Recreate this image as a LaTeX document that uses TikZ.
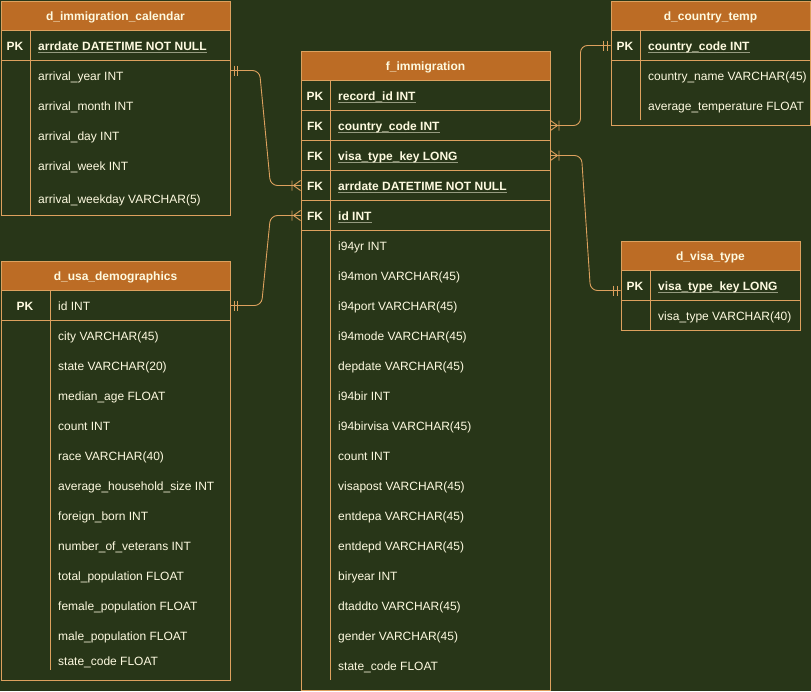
\documentclass[tikz,border=0pt]{standalone}
\usepackage{fontspec}
\setmainfont{Liberation Sans}
\definecolor{bgc}{HTML}{283618}
\definecolor{hdrc}{HTML}{BC6C25}
\definecolor{bordc}{HTML}{DDA15E}
\definecolor{txtc}{HTML}{FEFAE0}
\definecolor{ulc}{HTML}{959B80}
\newsavebox\ulbox
\newcommand\ulkey[1]{\sbox\ulbox{#1}\rlap{\textcolor{ulc}{\rule[-2.8pt]{\wd\ulbox}{1.4pt}}}\usebox\ulbox}
\tikzset{
  hdr/.style={rectangle, draw=bordc, fill=hdrc, line width=1pt, text=txtc, font=\bfseries\fontsize{12}{14}\selectfont, inner sep=0, anchor=north west, minimum height=29.5pt, text height=8.6pt, text depth=0pt},
  hdrtxt/.style={yshift=-0.8pt},
  keyrow/.style={rectangle, draw=bordc, line width=1pt, inner sep=0, anchor=north west, minimum height=30pt},
  body/.style={rectangle, draw=bordc, line width=1pt, inner sep=0, anchor=north west},
  divl/.style={draw=bordc, line width=1pt},
  klbl/.style={text=txtc, font=\bfseries\fontsize{12}{14}\selectfont, anchor=base, inner sep=0, yshift=-0.9pt},
  attr/.style={text=txtc, font=\fontsize{12}{14}\selectfont, anchor=base west, inner sep=0, yshift=-0.9pt},
  keytxt/.style={attr, font=\bfseries\fontsize{12}{14}\selectfont},
  conn/.style={draw=bordc, line width=0.9pt, rounded corners=7pt},
  mk/.style={draw=bordc, line width=0.9pt},
  manyfoot/.pic={\draw[mk] (0,-5) -- (7,0) -- (0,5) (0,0) -- (7,0) (8.5,-5) -- (8.5,5);},
  onebars/.pic={\draw[mk] (3.5,-5) -- (3.5,5) (7,-5) -- (7,5);}
}
\begin{document}
\begin{tikzpicture}[x=1pt,y=-1pt]
\useasboundingbox (0,0) rectangle (811,691);
\fill[bgc] (0,0) rectangle (811,691);

% ---------- d_immigration_calendar ----------
\node[hdr, minimum width=229pt] (calH) at (0.5,0.5) {\raisebox{-0.8pt}{d\_immigration\_calendar}};
\node[keyrow, minimum width=229pt] (calPK) at (0.5,30) {};
\node[body, minimum width=229pt, minimum height=155pt] (calB) at (0.5,60) {};
\draw[divl] (30,30) -- (30,215);
\node[klbl] (calPKl) at (15,49.3) {PK};
\node[keytxt] (calPKt) at (38,49.3) {\ulkey{arrdate DATETIME NOT NULL}};
\node[attr] (cal1) at (38,79.3) {arrival\_year INT};
\node[attr] (cal2) at (38,109.3) {arrival\_month INT};
\node[attr] (cal3) at (38,139.3) {arrival\_day INT};
\node[attr] (cal4) at (38,169.3) {arrival\_week INT};
\node[attr] (cal5) at (38,202.3) {arrival\_weekday VARCHAR(5)};

% ---------- d_country_temp ----------
\node[hdr, minimum width=199pt] (ctH) at (610.5,0.5) {\raisebox{-0.8pt}{d\_country\_temp}};
\node[keyrow, minimum width=199pt] (ctPK) at (610.5,30) {};
\node[body, minimum width=199pt, minimum height=65pt] (ctB) at (610.5,60) {};
\draw[divl] (640,30) -- (640,120);
\node[klbl] (ctPKl) at (625,49.3) {PK};
\node[keytxt] (ctPKt) at (648,49.3) {\ulkey{country\_code INT}};
\node[attr] (ct1) at (648,79.3) {country\_name VARCHAR(45)};
\node[attr] (ct2) at (648,109.3) {average\_temperature FLOAT};

% ---------- d_visa_type ----------
\node[hdr, minimum width=179pt] (vtH) at (620.5,240.5) {\raisebox{-0.8pt}{d\_visa\_type}};
\node[keyrow, minimum width=179pt] (vtPK) at (620.5,270) {};
\node[body, minimum width=179pt, minimum height=30pt] (vtB) at (620.5,300) {};
\draw[divl] (650,270) -- (650,330);
\node[klbl] (vtPKl) at (635,289.3) {PK};
\node[keytxt] (vtPKt) at (658,289.3) {\ulkey{visa\_type\_key LONG}};
\node[attr] (vt1) at (658,319.3) {visa\_type VARCHAR(40)};

% ---------- d_usa_demographics ----------
\node[hdr, minimum width=229pt] (dmH) at (0.5,260.5) {\raisebox{-0.8pt}{d\_usa\_demographics}};
\node[keyrow, minimum width=229pt] (dmPK) at (0.5,290) {};
\node[body, minimum width=229pt, minimum height=360pt] (dmB) at (0.5,320) {};
\draw[divl] (50,290) -- (50,670);
\node[klbl] (dmPKl) at (25,309.3) {PK};
\node[attr] (dmPKt) at (58,309.3) {id INT};
\foreach \t [count=\i] in {city VARCHAR(45), state VARCHAR(20), median\_age FLOAT, count INT, race VARCHAR(40), average\_household\_size INT, foreign\_born INT, number\_of\_veterans INT, total\_population FLOAT, female\_population FLOAT, male\_population FLOAT}
  \node[attr] (dm\i) at (58,{309.3+30*\i}) {\t};
\node[attr] (dm12) at (58,664.3) {state\_code FLOAT};

% ---------- f_immigration ----------
\node[hdr, minimum width=249pt] (fH) at (300.5,50.5) {\raisebox{-0.8pt}{f\_immigration}};
\node[keyrow, minimum width=249pt] (fRec) at (300.5,80) {};
\node[keyrow, minimum width=249pt] (fCountry) at (300.5,110) {};
\node[keyrow, minimum width=249pt] (fVisa) at (300.5,140) {};
\node[keyrow, minimum width=249pt] (fArr) at (300.5,170) {};
\node[keyrow, minimum width=249pt] (fId) at (300.5,200) {};
\node[body, minimum width=249pt, minimum height=459.5pt] (fB) at (300.5,230) {};
\draw[divl] (330,80) -- (330,680);
\node[klbl] (fRecl) at (315,99.3) {PK};
\node[keytxt] (fRect) at (338,99.3) {\ulkey{record\_id INT}};
\node[klbl] (fCountryl) at (315,129.3) {FK};
\node[keytxt] (fCountryt) at (338,129.3) {\ulkey{country\_code INT}};
\node[klbl] (fVisal) at (315,159.3) {FK};
\node[keytxt] (fVisat) at (338,159.3) {\ulkey{visa\_type\_key LONG}};
\node[klbl] (fArrl) at (315,189.3) {FK};
\node[keytxt] (fArrt) at (338,189.3) {\ulkey{arrdate DATETIME NOT NULL}};
\node[klbl] (fIdl) at (315,219.3) {FK};
\node[keytxt] (fIdt) at (338,219.3) {\ulkey{id INT}};
\foreach \t [count=\i] in {i94yr INT, i94mon VARCHAR(45), i94port VARCHAR(45), i94mode VARCHAR(45), depdate VARCHAR(45), i94bir INT, i94birvisa VARCHAR(45), count INT, visapost VARCHAR(45), entdepa VARCHAR(45), entdepd VARCHAR(45), biryear INT, dtaddto VARCHAR(45), gender VARCHAR(45), state\_code FLOAT}
  \node[attr] (f\i) at (338,{219.3+30*\i}) {\t};

% ---------- connectors ----------
\draw[conn] ([yshift=-25pt]calPK.east) -- ++(29,0) -- ([xshift=-30pt]fArr.west) -- (fArr.west);
\draw[conn] (dmPK.east) -- ++(31,0) -- ([xshift=-30pt]fId.west) -- (fId.west);
\draw[conn] (fCountry.east) -- ++(30,0) |- (ctPK.west);
\draw[conn] (fVisa.east) -- ++(31,0) -- ([xshift=-30pt,yshift=-5pt]vtPK.west) -- ([yshift=-5pt]vtPK.west);

% ---------- end markers ----------
\pic at ([yshift=-25pt]calPK.east) {onebars};
\pic at (dmPK.east) {onebars};
\pic[xscale=-1] at (ctPK.west) {onebars};
\pic[xscale=-1] at ([yshift=-5pt]vtPK.west) {onebars};
\pic[xscale=-1] at (fArr.west) {manyfoot};
\pic[xscale=-1] at (fId.west) {manyfoot};
\pic at (fCountry.east) {manyfoot};
\pic at (fVisa.east) {manyfoot};
\end{tikzpicture}
\end{document}
